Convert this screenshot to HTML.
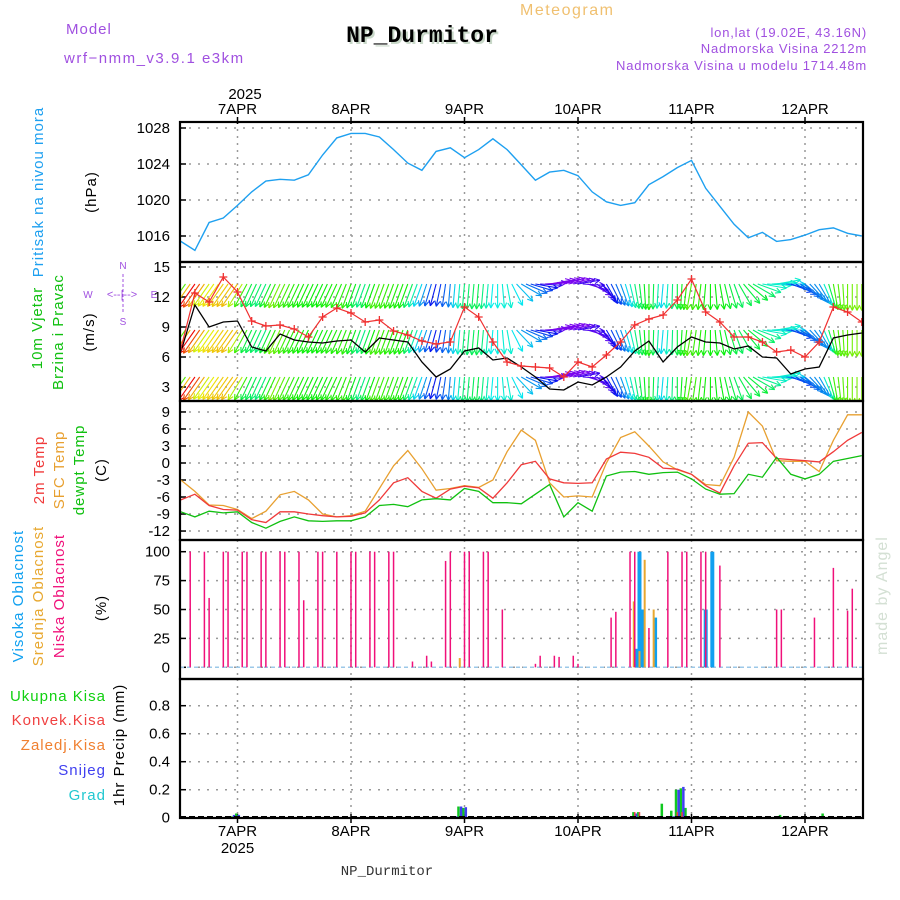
<!DOCTYPE html>
<html><head><meta charset="utf-8"><style>
body{margin:0;background:#fff}
svg{display:block;font-family:"Liberation Sans",sans-serif}
.t{font-size:15px;fill:#000}
.lab{font-size:15px;letter-spacing:1px}
</style></head><body>
<svg id="c" width="900" height="900" viewBox="0 0 900 900" xmlns="http://www.w3.org/2000/svg">
<defs>
<clipPath id="cp1"><rect x="180" y="122" width="683" height="140"/></clipPath>
<clipPath id="cp2"><rect x="180" y="262" width="683" height="139"/></clipPath>
<clipPath id="cp3"><rect x="180" y="401" width="683" height="139"/></clipPath>
<clipPath id="cp4"><rect x="180" y="540" width="683" height="139"/></clipPath>
<clipPath id="cp5"><rect x="180" y="679" width="683" height="139"/></clipPath>
</defs>
<text x="66" y="34" font-size="15" fill="#a050e0" letter-spacing="1">Model</text>
<text x="64" y="63" font-size="15" fill="#a050e0" letter-spacing="1.5">wrf−nmm_v3.9.1 e3km</text>
<text x="520" y="15" font-size="16" fill="#f0c070" letter-spacing="1.5">Meteogram</text>
<text x="424" y="44" font-size="23" font-weight="bold" font-family="Liberation Mono,monospace" fill="#c8d8c8" text-anchor="middle">NP_Durmitor</text>
<text x="422" y="42" font-size="23" font-weight="bold" font-family="Liberation Mono,monospace" fill="#000" text-anchor="middle">NP_Durmitor</text>
<text x="867" y="37" font-size="13" fill="#a050e0" text-anchor="end" letter-spacing="0.8">lon,lat (19.02E, 43.16N)</text>
<text x="867" y="53" font-size="13" fill="#a050e0" text-anchor="end" letter-spacing="0.8">Nadmorska Visina 2212m</text>
<text x="867" y="70" font-size="13" fill="#a050e0" text-anchor="end" letter-spacing="0.8">Nadmorska Visina u modelu 1714.48m</text>
<text x="245" y="99" class="t" text-anchor="middle">2025</text>
<text x="387" y="875" font-size="14" font-family="Liberation Mono,monospace" fill="#333" text-anchor="middle">NP_Durmitor</text>
<text transform="translate(887,655) rotate(-90)" font-size="16" fill="#d4e0d4" letter-spacing="1">made by Angel</text>
<g id="labels"></g>
<g id="plots"></g>
</svg>
<script>
// ---- data (3-hourly, hours relative to 7APR 00UTC, from -12 to 132) ----
const hours3 = [-12,-9,-6,-3,0,3,6,9,12,15,18,21,24,27,30,33,36,39,42,45,48,51,54,57,60,63,66,69,72,75,78,81,84,87,90,93,96,99,102,105,108,111,114,117,120,123,126,129,132];
const pressure = [1015.4,1014.4,1017.5,1018.0,1019.4,1020.9,1022.1,1022.3,1022.2,1022.8,1025.0,1026.9,1027.4,1027.4,1027.0,1025.6,1024.1,1023.3,1025.4,1025.8,1024.7,1025.6,1026.8,1025.6,1023.9,1022.2,1023.1,1023.3,1022.7,1020.9,1019.8,1019.4,1019.7,1021.7,1022.6,1023.6,1024.4,1021.3,1019.3,1017.3,1015.8,1016.4,1015.4,1015.6,1016.1,1016.7,1016.9,1016.3,1016.0];
const windSpeed = [6.5,11.2,9.0,9.5,9.6,7.0,6.6,8.3,7.7,7.5,7.4,7.6,7.7,6.5,7.9,7.7,7.5,5.5,4.0,4.8,6.6,6.9,5.7,5.9,5.0,4.0,2.8,2.7,3.5,3.2,4.0,5.0,6.6,7.6,5.5,7.0,8.0,7.5,7.4,6.8,7.1,6.0,5.9,4.3,4.8,5.0,7.9,8.2,8.4];
const windGust = [6.8,12.4,11.5,14.0,12.5,9.6,9.1,9.2,8.8,8.0,10.0,10.9,10.4,9.5,9.7,8.6,8.2,7.6,7.3,7.5,11.0,10.0,7.5,5.5,5.1,5.0,4.9,4.0,5.5,5.0,6.2,7.5,9.2,9.8,10.2,11.7,13.8,10.5,9.5,8.0,8.0,7.5,6.5,6.7,6.0,7.5,11.0,10.5,9.5];
const windDir = [215,215,215,215,215,205,205,205,205,205,205,205,200,200,200,200,200,200,195,185,185,185,185,170,120,100,80,75,80,120,150,160,170,180,185,180,190,185,170,160,130,100,80,110,130,150,170,180,180];
const temp2m = [-6.5,-5.5,-7.5,-8.2,-8.3,-10,-10.5,-8.6,-8.6,-9,-9.3,-9.5,-9.4,-8.8,-6.5,-3.5,-2.6,-5,-6.2,-4.6,-4.1,-4.4,-6.2,-3.5,-0.3,0.3,-2.8,-3.5,-3.6,-3.5,0.7,1.9,1.7,1.0,-0.9,-1.1,-2.0,-4.0,-5.3,-0.5,3.5,3.6,0.8,0.6,0.4,0.2,2.0,4.0,5.4];
const tempSfc = [-3.0,-5.0,-7.4,-7.5,-8.2,-9.8,-8.5,-5.6,-5,-6.5,-9,-9.5,-9.3,-8.5,-4.5,-0.5,2.2,-1,-4.8,-4.5,-4.0,-4.3,-3.0,2.0,5.8,4.0,-3.5,-6.0,-5.8,-6.0,0,4.5,5.5,3.0,0.2,-1.2,-2.0,-3.8,-4.0,1.0,9.0,6.5,0.4,0.3,0.3,-1.5,4.0,8.5,8.5];
const dewpt = [-8.6,-9.5,-8.5,-8.8,-8.6,-10.5,-11.5,-10.3,-9.5,-10.2,-10.3,-10.2,-10.2,-9.5,-7.5,-7.3,-7.7,-6.5,-6.3,-6.5,-4.5,-5.0,-7.0,-7.0,-7.2,-5.5,-3.8,-9.5,-7.0,-8.5,-2.3,-1.6,-1.5,-2.0,-1.7,-1.6,-2.8,-4.6,-5.5,-5.4,-2.0,-2.5,1.0,-2.0,-2.8,-2.0,0.3,0.8,1.3];
// cloud bars (hour, percent)
const lowCloudHours = [-10,-7,-6,-3,-2,1,2,5,6,9,10,13,14,17,18,21,24,25,28,29,32,33,37,40,41,44,45,48,49,52,53,56,63,64,67,68,71,72,79,80,83,84,87,91,94,95,98,99,102,114,115,122,126,129,130];
const lowCloud = [100,100,60,100,100,100,100,100,100,100,100,100,58,100,100,100,100,100,100,100,100,100,5,10,5,92,100,100,100,100,100,50,3,10,10,9,10,3,43,48,100,100,34,100,100,100,100,100,88,50,50,43,86,49,68];
const midCloudHours = [47,83.8,85,86.1,88];
const midCloud = [8,57,14,93,50];
const highCloudHours = [84.3,85,85.6,88.3,99,100.4];
const highCloud = [16,100,50,43,50,100];
// precipitation (hour, mm)
const precipHours = [-1,0,46,47,48,84,85,90,92,93,94,95,114,115,124];
const precipTotal = [0.01,0.03,0.01,0.08,0.07,0.04,0.04,0.10,0.05,0.20,0.21,0.07,0.01,0.02,0.03];
const precipSnow = [0.02,0.02,0.01,0.08,0.075,0.03,0.0,0.0,0.01,0.20,0.22,0.0,0.0,0.0,0.0];
const precipConv = [0,0,0,0,0,0.04,0.04,0.0,0.0,0.04,0.04,0,0,0,0];
const dayLabels = ["7APR","8APR","9APR","10APR","11APR","12APR"];
const pTicks=[1016,1020,1024,1028], wTicks=[3,6,9,12,15], tTicks=[-12,-9,-6,-3,0,3,6,9], cTicks=[0,25,50,75,100], prTicks=[0,0.2,0.4,0.6,0.8];

// ---- axes ----
const X0=237.5, PXH=113.5/24, L=180, R=863;
const xh=h=>X0+h*PXH;
const yP=p=>128+(1028-p)*9;
const yW=v=>267+(15-v)*10;
const yT=t=>463-t*5.67;
const yC=c=>667.3-c*1.156;
const yPr=v=>817.7-v*140;
const NS="http://www.w3.org/2000/svg";
const plots=document.getElementById('plots'), labels=document.getElementById('labels');
function el(tag,attrs,parent){const e=document.createElementNS(NS,tag);for(const k in attrs)e.setAttribute(k,attrs[k]);(parent||plots).appendChild(e);return e;}
function txt(s,attrs,parent){const e=el('text',attrs,parent);e.textContent=s;return e;}

const panels=[[122,262,yP,pTicks,'cp1','pressure'],[262,401,yW,wTicks,'cp2','wind'],[401,540,yT,tTicks,'cp3','temperature'],[540,679,yC,cTicks,'cp4','cloud'],[679,818,yPr,prTicks,'cp5','precip']];
panels.forEach(([t,b,fy,ticks,cp,nm])=>{
  const g=el('g',{});
  
  
  ticks.forEach(v=>{
    const y=fy(v);
    const ln=el('line',{x1:L,x2:R,y1:y,y2:y,stroke:'#999','stroke-dasharray':'2,7','stroke-width':1.5},g);
    
    
    el('line',{x1:L,x2:L+6,y1:y,y2:y,stroke:'#000','stroke-width':1.5},g);
    const lab = nm==='precip' ? (v===0?'0':v.toFixed(1)) : String(v);
    const tx=txt(lab,{x:170,y:y+5,class:'t','text-anchor':'end'},g);
    
    
  });
  for(let d=0;d<6;d++){
    const x=xh(d*24);
    el('line',{x1:x,x2:x,y1:t,y2:b,stroke:'#999','stroke-dasharray':'2,5','stroke-width':1.5},g);
  }
});
// day labels
dayLabels.forEach((s,i)=>{
  const x=xh(i*24);
  const a=txt(s,{x:x,y:114,class:'t','text-anchor':'middle'});
  
  
  const b=txt(s,{x:x,y:836,class:'t','text-anchor':'middle'});
  
  
  el('line',{x1:x,x2:x,y1:117,y2:124,stroke:'#000','stroke-width':1.5});
  el('line',{x1:x,x2:x,y1:814,y2:823,stroke:'#000','stroke-width':1.5});
});
const yr=txt('2025',{x:xh(0),y:853,class:'t','text-anchor':'middle'});



function poly(vals,fy,color,cp,name,w){
  const pts=vals.map((v,i)=>xh(hours3[i]).toFixed(1)+','+fy(v).toFixed(1)).join(' ');
  const p=el('polyline',{points:pts,fill:'none',stroke:color,'stroke-width':w||1.3,'clip-path':'url(#'+cp+')'});
  
  
  return p;
}
// pressure
poly(pressure,yP,'#1ea0f0','cp1','pressure-line',1.4);

// wind arrows (rendered hourly between 3-hourly samples)
const wg=el('g',{'clip-path':'url(#cp2)'});


function interp(arr,h){const f=(h-hours3[0])/3;const i=Math.min(Math.floor(f),arr.length-2);const r=f-i;return arr[i]*(1-r)+arr[i+1]*r;}
function colorFor(v){const t=Math.max(0,Math.min(1,(v-3)/8));return 'hsl('+(270*(1-t)).toFixed(0)+',95%,48%)';}
[284,330,377].forEach(row=>{
  for(let h=-12;h<=132;h++){
    const v=interp(windSpeed,h), d=interp(windDir,h)*Math.PI/180;
    const len=19+v*0.9;
    const x1=xh(h), y1=row;
    const dx=Math.sin(d)*len, dy=-Math.cos(d)*len;
    const x2=x1+dx, y2=y1+dy;
    const c=colorFor(v);
    const a=el('line',{x1:x1,y1:y1,x2:x2,y2:y2,stroke:c,'stroke-width':1.1},wg);
    
    
    const ang=Math.atan2(dy,dx);
    [0.45,-0.45].forEach(o=>{
      el('line',{x1:x2,y1:y2,x2:x2-6*Math.cos(ang+o),y2:y2-6*Math.sin(ang+o),stroke:c,'stroke-width':1.1},wg);
    });
  }
});
poly(windSpeed,yW,'#000','cp2','wind-speed-line',1.3);
poly(windGust,yW,'#f03030','cp2','wind-gust-line',1.2);
const mg=el('g',{'clip-path':'url(#cp2)'});
windGust.forEach((v,i)=>{
  const x=xh(hours3[i]),y=yW(v);
  const m=el('path',{d:`M${x-4},${y}H${x+4}M${x},${y-4}V${y+4}`,stroke:'#f03030','stroke-width':1.3},mg);
  
  
});

// temperatures
poly(tempSfc,yT,'#e8a030','cp3','sfc-temp-line',1.3);
poly(temp2m,yT,'#f03a3a','cp3','temp-2m-line',1.3);
poly(dewpt,yT,'#10c010','cp3','dewpoint-line',1.3);

// clouds
el('line',{x1:L,x2:R,y1:yC(0),y2:yC(0),stroke:'#9cc8e8','stroke-width':1.5,'stroke-dasharray':'4,3'});
function bars(hrs,vals,fy,color,w,name,dx){
  vals.forEach((v,i)=>{
    if(v<=0)return;
    const x=xh(hrs[i])+(dx||0);
    const r=el('rect',{x:x-w/2,y:fy(v),width:w,height:fy(0)-fy(v),fill:color});
    
    
  });
}
bars(highCloudHours,highCloud,yC,'#10a0f0',4,'high-cloud-bar');
bars(midCloudHours,midCloud,yC,'#e8a830',2,'mid-cloud-bar');
bars(lowCloudHours,lowCloud,yC,'#f0107a',1.5,'low-cloud-bar');

// precip
bars(precipHours,precipTotal,yPr,'#10c820',2.5,'precip-total-bar',-1.3);
bars(precipHours,precipSnow,yPr,'#4040f0',2.5,'precip-snow-bar',1.3);
bars(precipHours,precipConv,yPr,'#f04040',1.5,'precip-convective-bar',0);
el('line',{x1:L,x2:R,y1:817,y2:817,stroke:'#000','stroke-width':2,'stroke-dasharray':'6,3'});

// panel borders
panels.forEach(([t,b,,,,nm])=>{
  const r=el('rect',{x:L,y:t,width:R-L,height:b-t,fill:'none',stroke:'#000','stroke-width':2.2});
  
  
});

// left labels
function vlab(s,x,cy,color,name,size){
  const e=txt(s,{transform:`translate(${x},${cy}) rotate(-90)`,'text-anchor':'middle',fill:color,'font-size':size||15,'letter-spacing':1},labels);
  
  
}
vlab('Pritisak na nivou mora',43,192,'#1ea0f0','pressure-axis-title');
vlab('(hPa)',96,192,'#000','pressure-unit');
vlab('10m Vjetar',42,328,'#10c010','wind-axis-title');
vlab('Brzina i Pravac',63,332,'#10c010','wind-axis-subtitle');
vlab('(m/s)',94,332,'#000','wind-unit');
vlab('2m Temp',44,470,'#f03a3a','temp-2m-axis-title');
vlab('SFC Temp',64,470,'#e8a030','sfc-temp-axis-title');
vlab('dewpt Temp',84,470,'#10c010','dewpoint-axis-title');
vlab('(C)',106,470,'#000','temp-unit');
vlab('Visoka Oblacnost',23,596,'#10a0f0','high-cloud-axis-title');
vlab('Srednja Oblacnost',43,596,'#e8a830','mid-cloud-axis-title');
vlab('Niska Oblacnost',64,596,'#f0107a','low-cloud-axis-title');
vlab('(%)',106,608,'#000','cloud-unit');
vlab('1hr Precip (mm)',124,745,'#000','precip-axis-title');
[['Ukupna Kisa','#10d010',701],['Konvek.Kisa','#f04040',725],['Zaledj.Kisa','#f08030',750],['Snijeg','#4040f0',775],['Grad','#20c8d0',800]].forEach(([s,c,y])=>{
  const e=txt(s,{x:106,y:y,'text-anchor':'end',fill:c,'font-size':15,'letter-spacing':1},labels);
  
  
});
// compass
const cg=el('g',{fill:'#a050e0','font-size':10,'text-anchor':'middle'},labels);


txt('N',{x:123,y:269},cg);txt('S',{x:123,y:325},cg);txt('W',{x:88,y:298},cg);txt('E',{x:154,y:298},cg);
txt('<--|-->',{x:122,y:298,'font-size':11},cg);
el('line',{x1:123,x2:123,y1:274,y2:314,stroke:'#a050e0','stroke-dasharray':'3,2'},cg);
</script>
</body></html>
